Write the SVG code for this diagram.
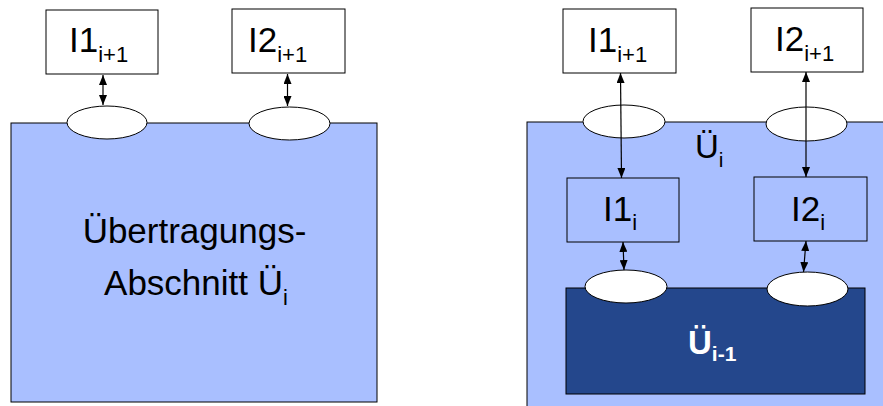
<svg xmlns="http://www.w3.org/2000/svg" width="883" height="406" viewBox="0 0 883 406">
<defs>
<marker id="ah" viewBox="0 0 10 8" refX="10" refY="4" markerWidth="10" markerHeight="8" markerUnits="userSpaceOnUse" orient="auto-start-reverse">
<path d="M0,0 L10,4 L0,8 Z" fill="#000"/>
</marker>
</defs>
<style>
.bg{fill:#A9BFFF;stroke:#000;stroke-width:1}
.dk{fill:#24478C;stroke:#000;stroke-width:1}
.box{fill:#fff;stroke:#000;stroke-width:1}
.ibox{fill:#A9BFFF;stroke:#000;stroke-width:1}
.port{fill:#fff;stroke:#000;stroke-width:1}
.t{font-family:"Liberation Sans",Arial,sans-serif;font-size:35px;fill:#000}
.s{font-size:22px}
.w{font-family:"Liberation Sans",Arial,sans-serif;font-size:33px;font-weight:bold;fill:#fff}
.ws{font-size:21px}
.c{stroke:#000;stroke-width:1.2;fill:none;marker-start:url(#ah);marker-end:url(#ah)}
</style>

<!-- Left panel -->
<g id="left-section">
<rect class="bg" x="11" y="123" width="366" height="279"/>
<text class="t" x="194.5" y="243" text-anchor="middle">Übertragungs-</text>
<text class="t" x="196" y="295" text-anchor="middle">Abschnitt Ü<tspan class="s" dy="10">i</tspan></text>
</g>
<g id="left-port1"><ellipse class="port" cx="107" cy="122.5" rx="40" ry="16.5"/></g>
<g id="left-port2"><ellipse class="port" cx="289.5" cy="123.5" rx="40.5" ry="16.5"/></g>
<g id="left-I1">
<rect class="box" x="46" y="10" width="112" height="64"/>
<text class="t" x="69" y="52">I1<tspan class="s" dy="10">i+1</tspan></text>
</g>
<g id="left-I2">
<rect class="box" x="232" y="9" width="113" height="64"/>
<text class="t" x="248" y="52">I2<tspan class="s" dy="10">i+1</tspan></text>
</g>

<!-- Right panel -->
<g id="right-section">
<rect class="bg" x="527" y="122" width="370" height="300"/>
<text class="t" style="font-size:33px" x="695" y="158">Ü<tspan class="s" style="font-size:21px" dy="9">i</tspan></text>
</g>
<g id="right-port1"><ellipse class="port" cx="624" cy="121.5" rx="41" ry="16.5"/></g>
<g id="right-port2"><ellipse class="port" cx="806.5" cy="124" rx="40.5" ry="17"/></g>
<g id="right-I1-next">
<rect class="box" x="563" y="9" width="113" height="64"/>
<text class="t" x="588" y="52">I1<tspan class="s" dy="10">i+1</tspan></text>
</g>
<g id="right-I2-next">
<rect class="box" x="751" y="8" width="112" height="64"/>
<text class="t" x="775" y="51">I2<tspan class="s" dy="10">i+1</tspan></text>
</g>
<g id="right-I1">
<rect class="ibox" x="567" y="178" width="112" height="64"/>
<text class="t" x="603" y="221">I1<tspan class="s" dy="9">i</tspan></text>
</g>
<g id="right-I2">
<rect class="ibox" x="754" y="177" width="113" height="64"/>
<text class="t" x="791" y="221">I2<tspan class="s" dy="9">i</tspan></text>
</g>
<g id="inner-section">
<rect class="dk" x="566" y="288" width="299" height="106"/>
<text class="w" x="688" y="354">Ü<tspan class="ws" dy="7">i-1</tspan></text>
</g>
<g id="inner-port1"><ellipse class="port" cx="626" cy="286.5" rx="41" ry="16.5"/></g>
<g id="inner-port2"><ellipse class="port" cx="807.5" cy="289" rx="40.5" ry="17"/></g>

<g id="connectors">
<line class="c" x1="103" y1="75" x2="103" y2="105"/>
<line class="c" x1="287.5" y1="74" x2="287.5" y2="106"/>
<line class="c" x1="620.5" y1="73" x2="621.5" y2="178"/>
<line class="c" x1="806" y1="72" x2="806" y2="177"/>
<line class="c" x1="623" y1="242" x2="624" y2="270"/>
<line class="c" x1="806" y1="241" x2="803.5" y2="272"/>
</g>
</svg>
